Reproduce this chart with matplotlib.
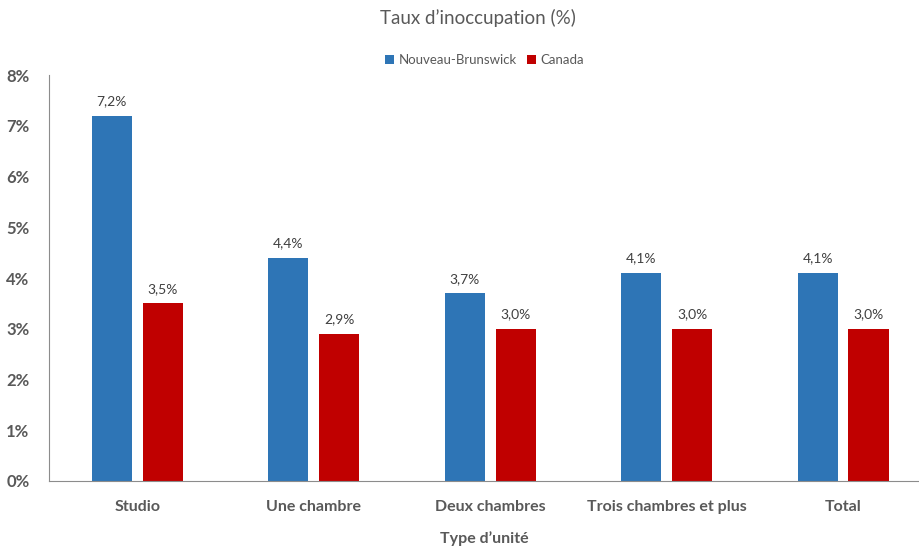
import numpy as np
import matplotlib.pyplot as plt

categories = ["Studio", "Une chambre", "Deux chambres", "Trois chambres et plus", "Total"]
nb_values = [7.2, 4.4, 3.7, 4.1, 4.1]
ca_values = [3.5, 2.9, 3.0, 3.0, 3.0]
y_ticks = [0, 1, 2, 3, 4, 5, 6, 7, 8]

blue = "#2E75B6"
red = "#C00000"
grey = "#595959"

plt.rcParams["font.family"] = ["Lato", "DejaVu Sans"]

fig = plt.figure(figsize=(9.2, 5.48), dpi=100)
ax = fig.add_axes([0.0533, 0.1223, 0.9467, 0.7407])

x = np.arange(len(categories))
w = 0.227
off = 0.144
b1 = ax.bar(x - off, nb_values, w, color=blue, label="Nouveau-Brunswick")
b2 = ax.bar(x + off, ca_values, w, color=red, label="Canada")

# data labels above each bar, French decimal comma
for bars, vals in ((b1, nb_values), (b2, ca_values)):
    for rect, v in zip(bars, vals):
        ax.annotate(f"{v:.1f}%".replace(".", ","),
                    (rect.get_x() + rect.get_width() / 2, v),
                    xytext=(0, 6), textcoords="offset points",
                    ha="center", va="bottom", fontsize=10, color="#404040")

ax.set_xlim(-0.5, 4.436)
ax.set_ylim(0, 8)
ax.set_yticks(y_ticks)
ax.set_yticklabels([f"{t}%" for t in y_ticks], fontsize=12, fontweight="bold", color=grey)
ax.set_xticks(x)
ax.set_xticklabels(categories, fontsize=11.5, fontweight="bold", color=grey)
ax.tick_params(axis="both", length=0)
ax.tick_params(axis="x", pad=14)
ax.tick_params(axis="y", pad=14)

for s in ("top", "right"):
    ax.spines[s].set_visible(False)
ax.spines["left"].set_color("#8C8C8C")
ax.spines["bottom"].set_color("#8C8C8C")

ax.set_xlabel("Type d\u2019unité", fontsize=11.5, fontweight="bold", color=grey, labelpad=12)
fig.text(0.52, 0.968, "Taux d\u2019inoccupation (%)", ha="center", va="center",
         fontsize=13.5, color=grey)
ax.legend(loc="center", bbox_to_anchor=(0.5, 1.037), ncol=2, frameon=False,
          fontsize=9.5, handlelength=0.7, handleheight=0.7, handletextpad=0.3,
          columnspacing=0.8, labelcolor=grey)

fig.savefig("out.png", dpi=100)
